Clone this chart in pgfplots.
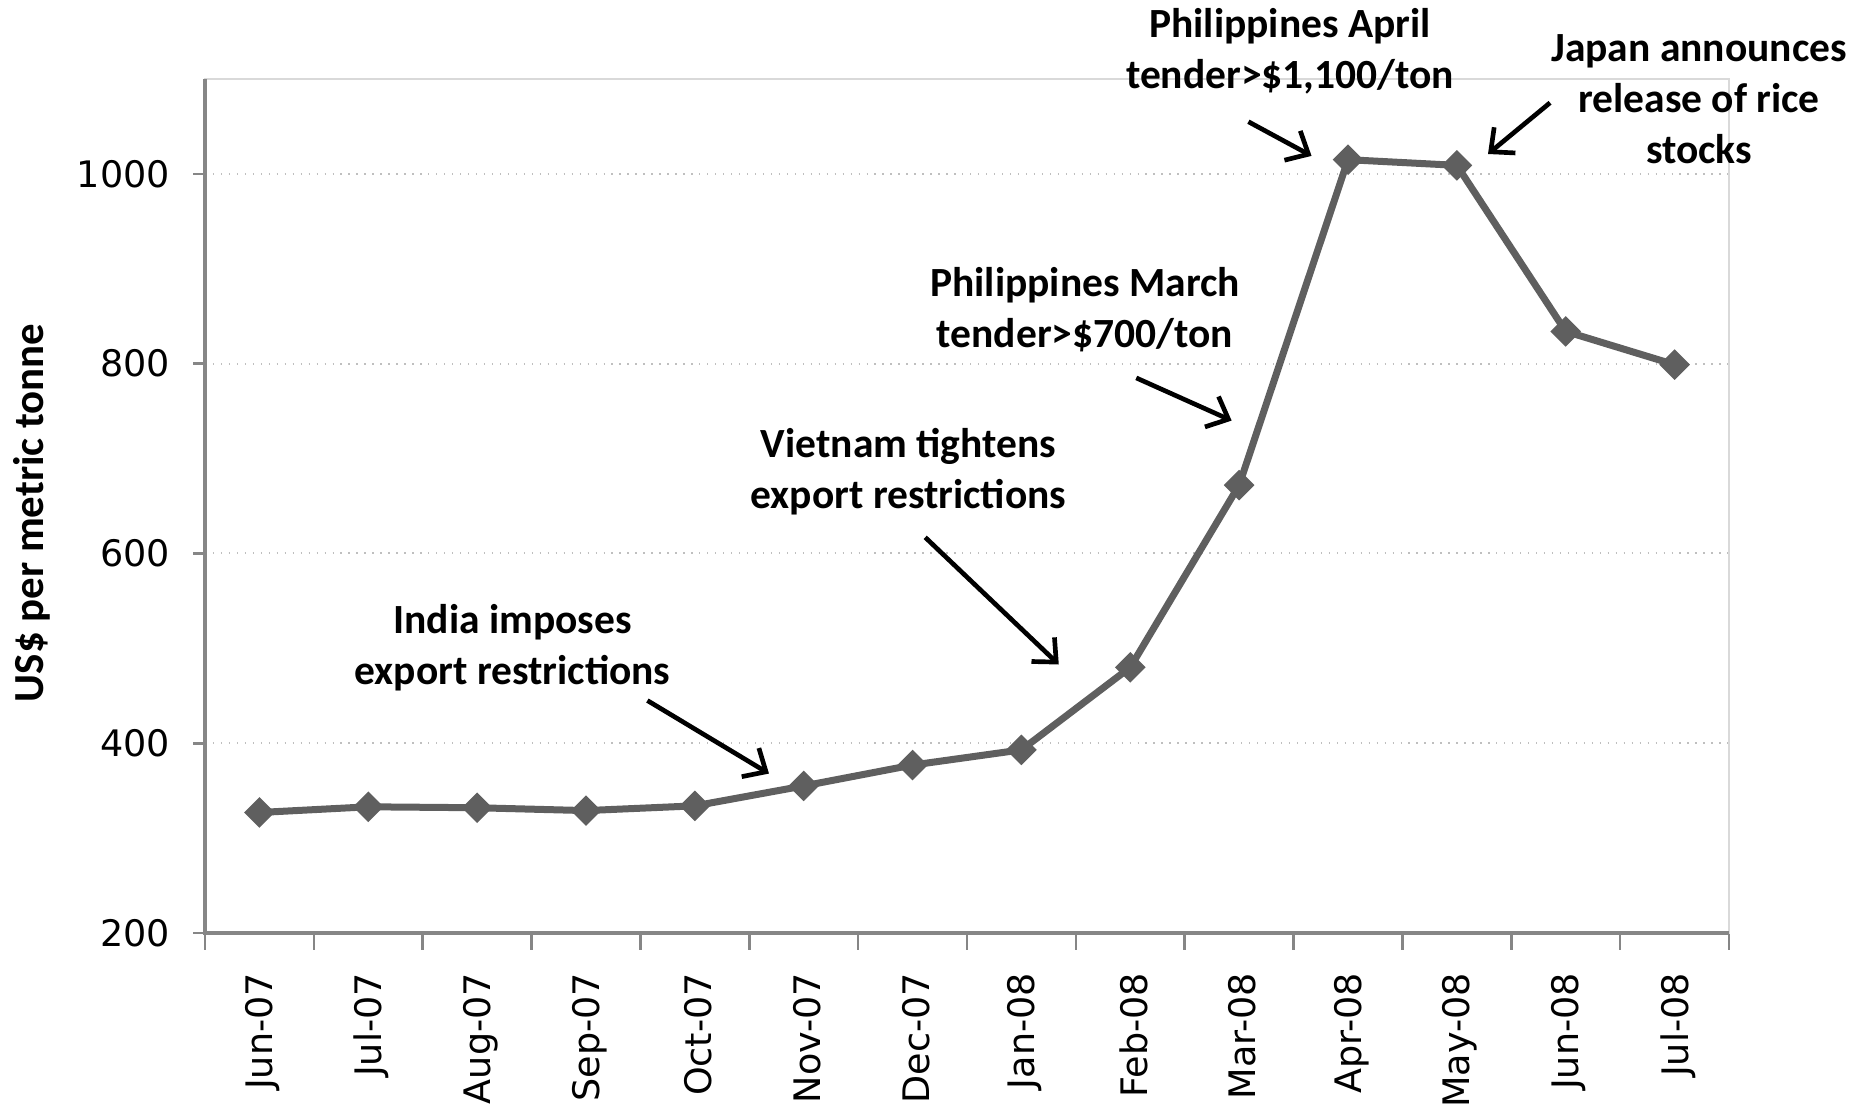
\documentclass[border=0pt]{standalone}
\usepackage{pgfplots}
\pgfplotsset{compat=1.18}
\usetikzlibrary{arrows.meta}
\usepackage{fontspec}
\setmainfont{Carlito}
\newfontfamily\tickfont{DejaVu Sans}
\definecolor{axgray}{HTML}{868686}
\definecolor{boxgray}{HTML}{D9D9D9}
\definecolor{gridgray}{HTML}{BFBFBF}
\definecolor{linegray}{HTML}{5F5F5F}
\begin{document}
\begin{tikzpicture}
\useasboundingbox (0,0) rectangle (561bp,332.7bp);
\begin{axis}[
  at={(61.5bp,52.8bp)}, anchor=south west,
  scale only axis, width=457.2bp, height=256.2bp,
  xmin=-0.5, xmax=13.5, ymin=200, ymax=1100,
  xtick={0,...,13},
  xticklabels={Jun-07,Jul-07,Aug-07,Sep-07,Oct-07,Nov-07,Dec-07,Jan-08,Feb-08,Mar-08,Apr-08,May-08,Jun-08,Jul-08},
  minor xtick={-0.5,0.5,...,13.5},
  ytick={200,400,600,800,1000},
  xtick pos=bottom, ytick pos=left,
  tick align=outside,
  major x tick style={draw=none},
  minor x tick style={axgray, line width=0.8bp},
  minor tick length=5bp,
  major y tick style={axgray, line width=0.8bp},
  major tick length=3.5bp,
  ymajorgrids=true,
  grid style={gridgray, dotted, line width=0.6bp},
  axis line style={boxgray, line width=0.6bp},
  /pgf/number format/assume math mode=true,
  /pgf/number format/1000 sep={},
  ticklabel style={font=\tickfont\fontsize{11}{13}\selectfont},
  yticklabel style={xshift=-3.5bp},
  xticklabel style={rotate=90, anchor=east, xshift=-5bp, yshift=-1bp},
  ylabel={\bfseries US\$ per metric tonne},
  every axis y label/.style={at={([xshift=-51.9bp]axis description cs:0,0.492)}, rotate=90, anchor=center, font=\fontsize{12.9}{15}\selectfont},
  clip=false,
]
\addplot[linegray, line width=2.1bp, mark=square*, mark size=3bp, mark options={rotate=45, fill=linegray, draw=linegray, line width=0.5bp}]
 coordinates {(0,327) (1,333) (2,332) (3,329) (4,334) (5,355) (6,377) (7,393) (8,480) (9,672) (10,1015) (11,1009) (12,834) (13,799)};
\draw[axgray, line width=1.2bp] (rel axis cs:0,1) -- (rel axis cs:0,0) -- (rel axis cs:1,0);
\begin{scope}[every node/.style={font=\bfseries\fontsize{12.5}{15.3}\selectfont, align=center, text=black}]
\node at (axis cs:2.326,501) {India imposes\\export restrictions};
\node at (axis cs:5.963,686) {Vietnam tightens\\export restrictions};
\node at (axis cs:7.584,857) {Philippines March\\tender>\$700/ton};
\node at (axis cs:9.468,1129) {Philippines April\\tender>\$1,100/ton};
\node at (axis cs:13.225,1079) {Japan announces\\release of rice\\stocks};
\end{scope}
\begin{scope}[line width=1.4bp, -{Straight Barb[length=5.5bp,width=10bp]}]
\draw (axis cs:3.564,445) -- (axis cs:4.681,368);
\draw (axis cs:6.116,617) -- (axis cs:7.343,483);
\draw (axis cs:8.055,785) -- (axis cs:8.931,740);
\draw (axis cs:9.085,1055) -- (axis cs:9.665,1019);
\draw (axis cs:11.856,1075) -- (axis cs:11.286,1021);
\end{scope}
\end{axis}
\end{tikzpicture}
\end{document}
